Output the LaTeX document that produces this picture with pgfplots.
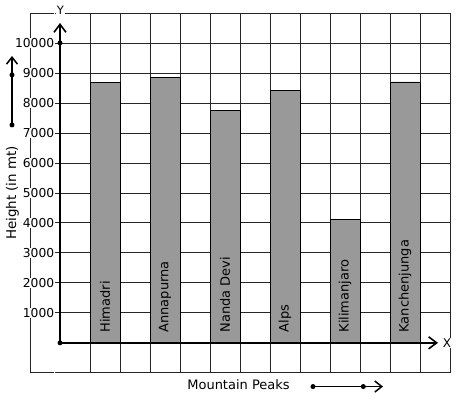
\documentclass[border=0pt]{standalone}
\usepackage{pgfplots}
\pgfplotsset{compat=1.18}
\usepackage{fontspec}
\setmainfont{DejaVu Sans}
\usetikzlibrary{arrows.meta}
\definecolor{barg}{RGB}{153,153,153}
\begin{document}
\begin{tikzpicture}[lbl/.style={rotate=90, anchor=west, inner sep=0pt, font=\fontsize{13bp}{15bp}\selectfont}]
\begin{axis}[
 x=30bp, y=0.03bp,
 xmin=-1, xmax=13, ymin=-1000, ymax=11000,
 axis lines=middle,
 axis line style={draw=none},
 clip=false,
 scaled y ticks=false, scaled x ticks=false,
 xtick={-1,0,...,13}, xticklabels={},
 ytick={-1000,0,1000,2000,3000,4000,5000,6000,7000,8000,9000,10000,11000},
 yticklabels={,,1000,2000,3000,4000,5000,6000,7000,8000,9000,10000,},
 major tick length=0pt,
 grid=major,
 grid style={black!85, line width=0.8bp},
 yticklabel style={font=\fontsize{12.3bp}{14bp}\selectfont, fill=white, inner sep=0.6bp, xshift=-5bp},
 /pgf/number format/assume math mode=true,
]
\addplot[ybar, bar width=1, fill=barg, draw=black, line width=0.9bp]
 coordinates {(1.5,8667) (3.5,8850) (5.5,7760) (7.5,8430) (9.5,4100) (11.5,8700)};

\draw[line width=2bp, -{Straight Barb[length=8bp,width=12bp,line width=1.6bp]}] (axis cs:0,0) -- (axis cs:0,10667);
\draw[line width=2bp, -{Straight Barb[length=8bp,width=12bp,line width=1.6bp]}] (axis cs:0,0) -- (axis cs:12.6,0);
\fill (axis cs:0,0) circle[radius=2.5bp];
\fill (axis cs:0,10000) circle[radius=2.5bp];

\node[fill=white, inner sep=1bp, anchor=base, font=\fontsize{11.5bp}{13bp}\selectfont] at (axis cs:0.017,10933) {Y};
\node[fill=white, inner sep=0.8bp, font=\fontsize{12bp}{14bp}\selectfont] at (axis cs:12.9,0) {X};

\node[lbl] at (axis cs:1.5,340) {Himadri};
\node[lbl] at (axis cs:3.5,340) {Annapurna};
\node[lbl] at (axis cs:5.5,340) {Nanda Devi};
\node[lbl] at (axis cs:7.5,340) {Alps};
\node[lbl] at (axis cs:9.5,340) {Kilimanjaro};
\node[lbl] at (axis cs:11.5,340) {Kanchenjunga};

\node[rotate=90, font=\fontsize{13.4bp}{15bp}\selectfont] at (axis cs:-1.583,5000) {Height (in mt)};
\node[font=\fontsize{13bp}{15bp}\selectfont] at (axis cs:5.95,-1400) {Mountain Peaks};

\draw[line width=1.8bp, -{Straight Barb[length=7bp,width=11bp,line width=1.5bp]}] (axis cs:-1.6,7267) -- (axis cs:-1.6,9567);
\fill (axis cs:-1.6,7267) circle[radius=2.5bp];
\fill (axis cs:-1.6,8933) circle[radius=2.5bp];
\draw[line width=1.8bp, -{Straight Barb[length=7bp,width=11bp,line width=1.5bp]}] (axis cs:8.433,-1457) -- (axis cs:10.767,-1457);
\fill (axis cs:8.433,-1457) circle[radius=2.5bp];
\fill (axis cs:10.11,-1457) circle[radius=2.5bp];

\coordinate (BL) at (axis cs:-2,-1866.7);
\coordinate (TR) at (axis cs:13.2333,11433.3);
\end{axis}
\pgfresetboundingbox
\useasboundingbox (BL) rectangle (TR);
\end{tikzpicture}
\end{document}
